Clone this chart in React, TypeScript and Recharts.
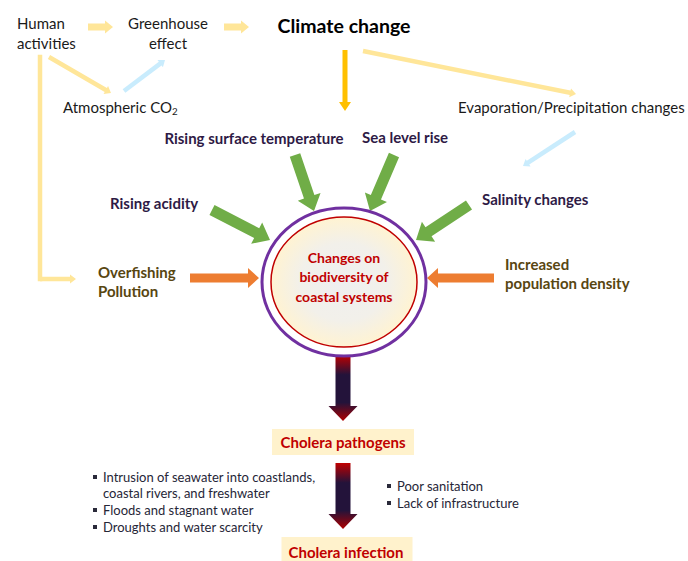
import React from "react";
import { ScatterChart, Scatter, XAxis, YAxis } from "recharts";

const W = 688;
const H = 561;
const FONT = "Lato, 'Noto Sans', sans-serif";

// text nodes of the diagram (x/y = anchor of first line)
const labels = [
  { id: "human", lines: ["Human", "activities"], x: 17, y: 23, kind: "plain", align: "start" },
  { id: "greenhouse", lines: ["Greenhouse", "effect"], x: 168, y: 23, kind: "plain", align: "middle" },
  { id: "climate", lines: ["Climate change"], x: 344, y: 25, kind: "title", align: "middle" },
  { id: "co2", lines: ["Atmospheric CO"], sub: "2", x: 63, y: 107, kind: "plain", align: "start" },
  { id: "evap", lines: ["Evaporation/Precipitation changes"], x: 458, y: 107, kind: "plain", align: "start" },
  { id: "temp", lines: ["Rising surface temperature"], x: 254, y: 138, kind: "factor", align: "middle" },
  { id: "sea", lines: ["Sea level rise"], x: 405, y: 137, kind: "factor", align: "middle" },
  { id: "acid", lines: ["Rising acidity"], x: 110, y: 203, kind: "factor", align: "start" },
  { id: "salinity", lines: ["Salinity changes"], x: 482, y: 199, kind: "factor", align: "start" },
  { id: "fishing", lines: ["Overfishing", "Pollution"], x: 98, y: 272, kind: "human", align: "start" },
  { id: "population", lines: ["Increased", "population density"], x: 505, y: 264, kind: "human", align: "start" },
  { id: "core", lines: ["Changes on", "biodiversity of", "coastal systems"], x: 344, y: 257, kind: "core", align: "middle" },
  { id: "pathogens", lines: ["Cholera pathogens"], x: 343, y: 442, kind: "outcome", align: "middle" },
  { id: "infection", lines: ["Cholera infection"], x: 346, y: 552, kind: "outcome", align: "middle" },
];

// connectors: list of points, last point is the arrow tip
const arrows = [
  { id: "a1", kind: "yellowBlock", pts: [[88, 27], [113, 27]] },
  { id: "a2", kind: "yellowBlock", pts: [[224, 27], [249, 27]] },
  { id: "a3", kind: "yellowThin", pts: [[40, 57], [40, 279], [76, 279]] },
  { id: "a4", kind: "yellowThin", pts: [[49, 57], [111, 93]] },
  { id: "a5", kind: "blueThin", pts: [[124, 91], [165, 60]] },
  { id: "a6", kind: "gold", pts: [[345, 50], [345, 111]] },
  { id: "a7", kind: "yellowThin", pts: [[363, 51], [576, 94]] },
  { id: "a8", kind: "blueThin", pts: [[575, 132], [523, 166]] },
  { id: "g1", kind: "green", pts: [[295, 155], [314, 211]] },
  { id: "g2", kind: "green", pts: [[394, 155], [370, 211]] },
  { id: "g3", kind: "green", pts: [[212, 210], [270, 240]] },
  { id: "g4", kind: "green", pts: [[469, 205], [416, 240]] },
  { id: "o1", kind: "orange", pts: [[190, 278], [259, 278]] },
  { id: "o2", kind: "orange", pts: [[494, 278], [427, 278]] },
  { id: "d1", kind: "dark", pts: [[343, 355], [343, 421]] },
  { id: "d2", kind: "dark", pts: [[343, 463], [343, 529]] },
];

const ellipseCenter = [{ x: 344, y: 282 }];

const boxes = [
  { id: "pathogens", x: 343, y: 442 },
  { id: "infection", x: 347, y: 551 },
];

const leftBullets = [
  { text: "Intrusion of seawater into coastlands,", x: 103, y: 477, dot: true },
  { text: "coastal rivers, and freshwater", x: 103, y: 493, dot: false },
  { text: "Floods and stagnant water", x: 103, y: 510, dot: true },
  { text: "Droughts and water scarcity", x: 103, y: 527, dot: true },
];
const rightBullets = [
  { text: "Poor sanitation", x: 397, y: 486, dot: true },
  { text: "Lack of infrastructure", x: 397, y: 503, dot: true },
];

const textKinds: Record<string, any> = {
  plain: { size: 15, weight: 400, color: "#1a1a1a", gap: 20 },
  title: { size: 19.5, weight: 700, color: "#000000", gap: 0 },
  factor: { size: 15, weight: 700, color: "#2e1a45", gap: 19 },
  human: { size: 15, weight: 700, color: "#584611", gap: 19 },
  core: { size: 14, weight: 700, color: "#c00000", gap: 19.5 },
  outcome: { size: 15, weight: 700, color: "#c00000", gap: 0 },
};

const arrowKinds: Record<string, any> = {
  yellowBlock: { fill: "#FFE699", body: 7, headW: 13, headL: 8 },
  yellowThin: { fill: "#FFE699", body: 4.5, headW: 9, headL: 6 },
  blueThin: { fill: "#C9ECFD", body: 4.5, headW: 9, headL: 6 },
  gold: { fill: "#FFC000", body: 5, headW: 12, headL: 9 },
  green: { fill: "#70AD47", body: 11, headW: 24, headL: 15 },
  orange: { fill: "#ED7D31", body: 9, headW: 20, headL: 11 },
  dark: { fill: "url(#darkArrow)", body: 15, headW: 29, headL: 15 },
};

const boxSizes: Record<string, [number, number]> = {
  pathogens: [142, 26],
  infection: [131, 28],
};

function Arrow({ points, kind }: { points: { x: number; y: number }[]; kind: string }) {
  const k = arrowKinds[kind];
  const n = points.length;
  const a = points[n - 2];
  const b = points[n - 1];
  const dx = b.x - a.x;
  const dy = b.y - a.y;
  const len = Math.hypot(dx, dy) || 1;
  const ux = dx / len;
  const uy = dy / len;
  const nx = -uy;
  const ny = ux;
  const bx = b.x - ux * k.headL;
  const by = b.y - uy * k.headL;
  const h = k.body / 2;
  const hw = k.headW / 2;
  const poly = [
    [a.x + nx * h, a.y + ny * h],
    [bx + nx * h, by + ny * h],
    [bx + nx * hw, by + ny * hw],
    [b.x, b.y],
    [bx - nx * hw, by - ny * hw],
    [bx - nx * h, by - ny * h],
    [a.x - nx * h, a.y - ny * h],
  ]
    .map((p) => p.join(","))
    .join(" ");
  const lead = points.slice(0, n - 1);
  return (
    <g>
      {kind === "dark" && (
        <defs>
          <linearGradient id="darkArrow" x1="0" y1="0" x2="0" y2="1">
            <stop offset="0" stopColor="#C00000" />
            <stop offset="0.3" stopColor="#23133A" />
            <stop offset="0.72" stopColor="#23133A" />
            <stop offset="1" stopColor="#B00000" />
          </linearGradient>
        </defs>
      )}
      {lead.length > 1 && (
        <polyline
          points={lead.map((p) => `${p.x},${p.y}`).join(" ")}
          fill="none"
          stroke={k.fill}
          strokeWidth={k.body}
          strokeLinecap="square"
        />
      )}
      <polygon points={poly} fill={k.fill} />
    </g>
  );
}

const Nothing = () => <g />;

function LabelShape(props: any) {
  const { cx, cy, payload } = props;
  const k = textKinds[payload.kind];
  return (
    <text
      x={cx}
      y={cy}
      textAnchor={payload.align}
      fontFamily={FONT}
      fontSize={k.size}
      fontWeight={k.weight}
      fill={k.color}
    >
      {payload.lines.map((line: string, i: number) => (
        <tspan key={i} x={cx} y={cy + i * k.gap} dominantBaseline="central">
          {line}
          {payload.sub && i === payload.lines.length - 1 ? (
            <tspan dy={4} fontSize={k.size * 0.65}>
              {payload.sub}
            </tspan>
          ) : null}
        </tspan>
      ))}
    </text>
  );
}

function EllipseShape(props: any) {
  const { cx, cy } = props;
  return (
    <g>
      <defs>
        <radialGradient id="coreFill" cx="0.5" cy="0.5" r="0.5">
          <stop offset="0" stopColor="#EFEFEF" />
          <stop offset="0.6" stopColor="#F2F0EA" />
          <stop offset="1" stopColor="#FFF3D2" />
        </radialGradient>
      </defs>
      <ellipse cx={cx} cy={cy} rx={82} ry={74} fill="#FFFFFF" stroke="#7030A0" strokeWidth={3} />
      <ellipse cx={cx} cy={cy} rx={73} ry={65} fill="url(#coreFill)" stroke="#C00000" strokeWidth={1.5} />
    </g>
  );
}

function BoxShape(props: any) {
  const { cx, cy, payload } = props;
  const [w, h] = boxSizes[payload.id];
  return <rect x={cx - w / 2} y={cy - h / 2} width={w} height={h} fill="#FFF2CC" />;
}

function BulletShape(props: any) {
  const { cx, cy, payload } = props;
  return (
    <g>
      {payload.dot && <rect x={cx - 10} y={cy - 2} width={4} height={4} fill="#2a2a3a" />}
      <text
        x={cx}
        y={cy}
        dominantBaseline="central"
        fontFamily={FONT}
        fontSize={13}
        fill="#262637"
      >
        {payload.text}
      </text>
    </g>
  );
}

export default function App() {
  return (
    <div style={{ position: "fixed", left: 0, top: 0, width: W, height: H, background: "#fff" }}>
      <ScatterChart width={W} height={H} margin={{ top: 0, right: 0, bottom: 0, left: 0 }}>
        <XAxis type="number" dataKey="x" domain={[0, W]} allowDataOverflow hide />
        <YAxis type="number" dataKey="y" domain={[0, H]} allowDataOverflow reversed hide />
        {arrows.map((ar) => (
          <Scatter
            key={ar.id}
            data={ar.pts.map(([x, y]) => ({ x, y }))}
            shape={Nothing}
            line={(p: any) => <Arrow key={ar.id} points={p.points} kind={ar.kind} />}
            isAnimationActive={false}
          />
        ))}
        <Scatter data={ellipseCenter} shape={EllipseShape} isAnimationActive={false} />
        <Scatter data={boxes} shape={BoxShape} isAnimationActive={false} />
        <Scatter data={labels} shape={LabelShape} isAnimationActive={false} />
        <Scatter data={leftBullets} shape={BulletShape} isAnimationActive={false} />
        <Scatter data={rightBullets} shape={BulletShape} isAnimationActive={false} />
      </ScatterChart>
    </div>
  );
}
